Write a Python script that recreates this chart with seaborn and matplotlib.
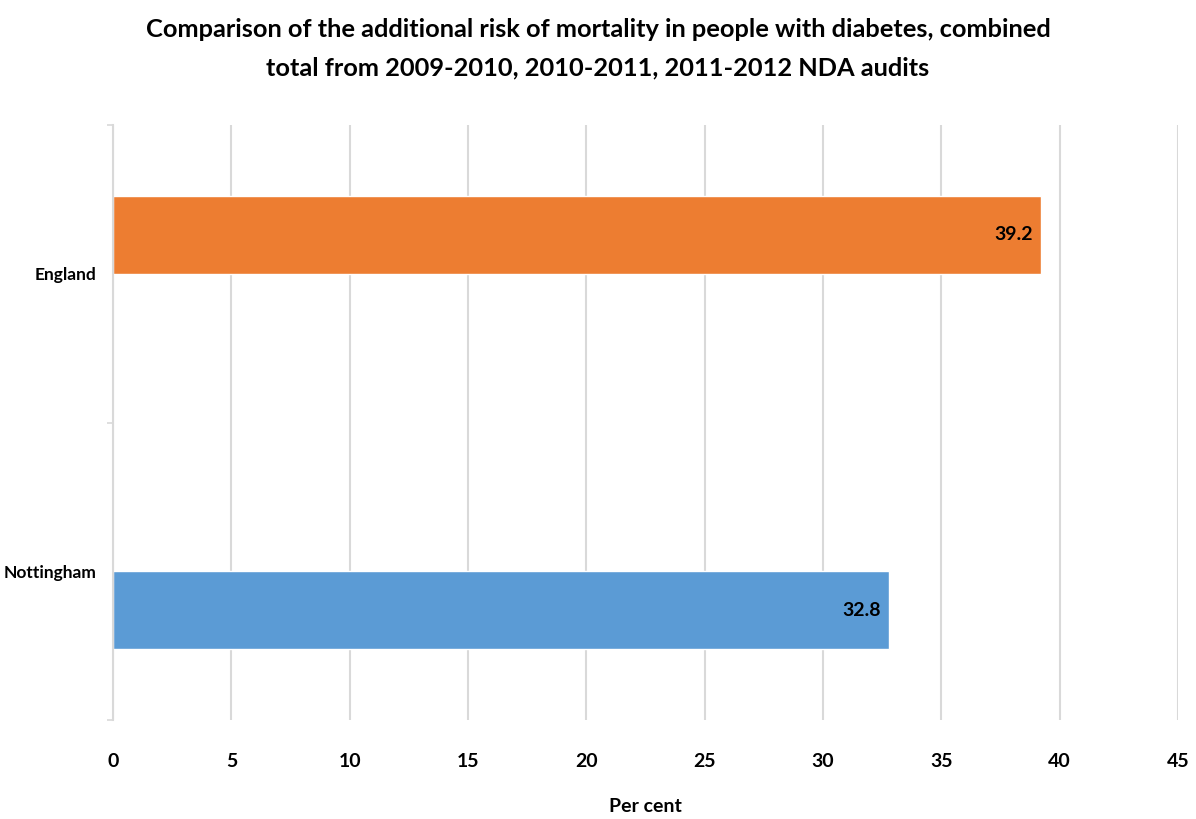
import matplotlib
matplotlib.use("Agg")
import matplotlib.pyplot as plt
import seaborn as sns
import pandas as pd
from matplotlib.ticker import FixedLocator

areas = ["England", "Nottingham"]
values = [39.2, 32.8]
colors = ["#ED7D31", "#5B9BD5"]
x_ticks = [0, 5, 10, 15, 20, 25, 30, 35, 40, 45]
title = ("Comparison of the additional risk of mortality in people with diabetes, combined\n"
         "total from 2009-2010, 2010-2011, 2011-2012 NDA audits")
x_label = "Per cent"

sns.set_theme(style="white")
plt.rcParams["font.family"] = ["Lato", "DejaVu Sans"]
plt.rcParams["font.weight"] = "bold"
plt.rcParams["text.color"] = "black"
plt.rcParams["xtick.color"] = "black"
plt.rcParams["ytick.color"] = "black"

df = pd.DataFrame({"area": areas, "value": values, "series": areas})

fig = plt.figure(figsize=(11.96, 8.19), dpi=100)
ax = fig.add_axes([0.0945, 0.121, 0.8905, 0.726])

sns.barplot(data=df, y="area", x="value", hue="series", hue_order=areas,
            order=areas, palette=dict(zip(areas, colors)), width=0.526,
            dodge=True, legend=False, saturation=1, ax=ax)

ax.set_xlim(0, 45)
ax.set_ylim(1.5, -0.5)
ax.set_xticks(x_ticks)
ax.set_xticklabels([str(t) for t in x_ticks], fontsize=14, fontweight="bold", color="black")
ax.tick_params(axis="x", length=0, pad=24, labelcolor="black")
ax.tick_params(axis="y", which="major", length=0, pad=12, labelsize=12.5, labelcolor="black")
for lbl in ax.get_yticklabels():
    lbl.set_fontweight("bold")
ax.yaxis.set_minor_locator(FixedLocator([-0.5, 0.5, 1.5]))
ax.tick_params(axis="y", which="minor", length=4, width=1.2, color="#d9d9d9",
               direction="out", left=True)

ax.grid(axis="x", color="#d9d9d9", linewidth=1.5)
ax.set_axisbelow(True)
for s in ["top", "right", "bottom"]:
    ax.spines[s].set_visible(False)
ax.spines["left"].set_color("#d9d9d9")
ax.spines["left"].set_linewidth(1.5)

ax.set_ylabel("")
ax.set_xlabel(x_label, fontsize=14, fontweight="bold", labelpad=20, color="black")

for c in ax.containers:
    texts = ax.bar_label(c, fmt="%.1f", padding=-6, fontsize=14, fontweight="bold", color="black")
    for t in texts:
        t.set_ha("right")

fig.text(0.5, 0.978, title, ha="center", va="top", fontsize=18.3,
         fontweight="bold", linespacing=1.8, color="black")

fig.savefig("out.png", dpi=100, facecolor="white")
